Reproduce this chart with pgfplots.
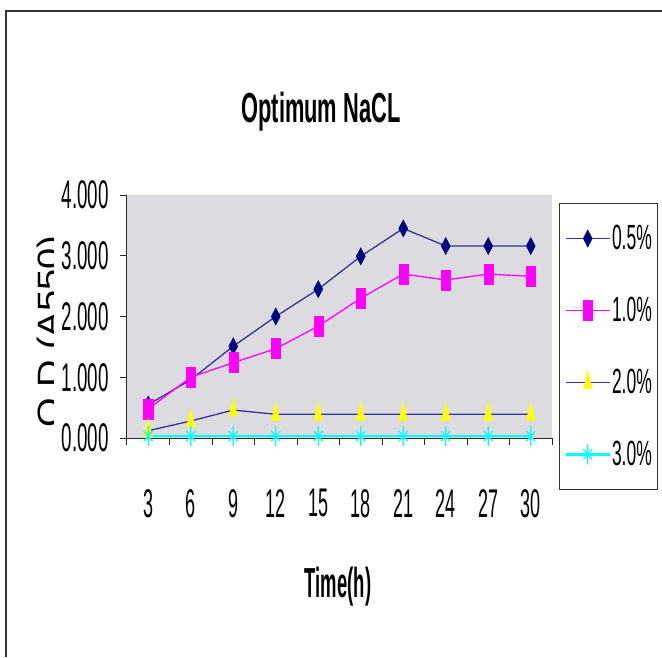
\documentclass[border=0pt]{standalone}
\usepackage{fontspec}
\setmainfont{Liberation Sans}
\usepackage{graphicx}
\usepackage{pgfplots}
\pgfplotsset{compat=1.18}
\definecolor{navyline}{RGB}{51,51,153}
\definecolor{navymark}{RGB}{0,0,128}
\definecolor{mag}{RGB}{255,0,255}
\definecolor{yel}{RGB}{255,255,0}
\definecolor{cya}{RGB}{0,255,255}
\definecolor{bgray}{RGB}{220,220,224}
\newcommand{\sq}[2]{\scalebox{#1}[1]{#2}}
\begin{document}
\begin{tikzpicture}[x=1pt,y=1pt]
\useasboundingbox (0,0) rectangle (662,657);
\draw[line width=1.5pt, black!80] (6,0) -- (6,646) -- (662,646);
\node[anchor=base, inner sep=0pt, font=\fontsize{42}{46}\selectfont\bfseries] at (321,534) {\sq{0.52}{Optimum NaCL}};
\node[anchor=base, inner sep=0pt, font=\fontsize{42}{46}\selectfont\bfseries] at (338,60) {\sq{0.44}{Time(h)}};
\begin{scope}
\clip (20,100) rectangle (53,560);
\node[rotate=90, anchor=base west, inner sep=0pt, font=\fontsize{38}{40}\selectfont] at (60,229) {\scalebox{1}[0.85]{O.D (A550)}};
\end{scope}
\begin{axis}[
  at={(127pt,219pt)}, anchor=south west, scale only axis,
  width=425pt, height=243pt,
  xmin=0.5, xmax=10.5, ymin=0, ymax=4,
  axis x line*=bottom, axis y line*=left,
  axis line style={-, black!85, line width=1pt},
  axis background/.style={fill=bgray},
  xtick={1,...,10},
  xticklabels={\sq{0.45}{3},\sq{0.45}{6},\sq{0.45}{9},\sq{0.45}{12},\sq{0.45}{15},\sq{0.45}{18},\sq{0.45}{21},\sq{0.45}{24},\sq{0.45}{27},\sq{0.45}{30}},
  ytick={0,1,2,3,4},
  yticklabels={\sq{0.47}{0.000},\sq{0.47}{1.000},\sq{0.47}{2.000},\sq{0.47}{3.000},\sq{0.47}{4.000}},
  minor xtick={0.5,1.5,...,10.5},
  minor ytick={0,1,2,3,4},
  major tick length=0pt, minor tick length=7pt, tick align=outside,
  tick style={black!85, line width=1pt},
  tick label style={font=\fontsize{40}{44}\selectfont},
  xticklabel style={anchor=north, inner sep=0pt, yshift=-51pt},
  yticklabel style={anchor=east, inner sep=0pt, xshift=-18pt},
  legend style={at={(1.0165,0.967)}, anchor=north west, draw=black!80, line width=1pt, fill=white,
    inner xsep=5pt, inner ysep=21pt, row sep=44pt, font=\fontsize{35}{38}\selectfont,
    nodes={inner sep=1pt}, cells={anchor=west},
    /tikz/every even column/.append style={column sep=4pt}},
  legend image code/.code={\draw[mark repeat=2, mark phase=2, #1] plot coordinates {(0pt,0pt)(22pt,0pt)(44pt,0pt)};},
]
\addplot[color=navyline, line width=1.3pt, mark=diamond*, mark size=8.5pt,
  mark options={xscale=0.7, fill=navymark, draw=navymark, line width=0.5pt}]
  coordinates {(1,0.55)(2,0.96)(3,1.51)(4,2.00)(5,2.45)(6,2.99)(7,3.45)(8,3.16)(9,3.16)(10,3.16)};
\addlegendentry{\sq{0.5}{0.5\%}}
\addplot[color=mag, line width=1.3pt, mark=square*, mark size=10pt,
  mark options={xscale=0.45, fill=mag, draw=mag, line width=0.5pt}]
  coordinates {(1,0.48)(2,1.00)(3,1.24)(4,1.47)(5,1.84)(6,2.30)(7,2.70)(8,2.60)(9,2.70)(10,2.66)};
\addlegendentry{\sq{0.5}{1.0\%}}
\addplot[color=navyline, line width=1.3pt, mark=triangle*, mark size=12pt,
  mark options={xscale=0.4, fill=yel, draw=yel, line width=0.5pt}]
  coordinates {(1,0.12)(2,0.28)(3,0.46)(4,0.39)(5,0.39)(6,0.39)(7,0.39)(8,0.39)(9,0.39)(10,0.39)};
\addlegendentry{\sq{0.5}{2.0\%}}
\addplot[color=cya, line width=2.5pt, mark=asterisk, mark size=10pt,
  mark options={xscale=0.5, draw=cya, line width=1.2pt}]
  coordinates {(1,0.03)(2,0.03)(3,0.03)(4,0.03)(5,0.03)(6,0.03)(7,0.03)(8,0.03)(9,0.03)(10,0.03)};
\addlegendentry{\sq{0.5}{3.0\%}}
\end{axis}
\end{tikzpicture}
\end{document}
